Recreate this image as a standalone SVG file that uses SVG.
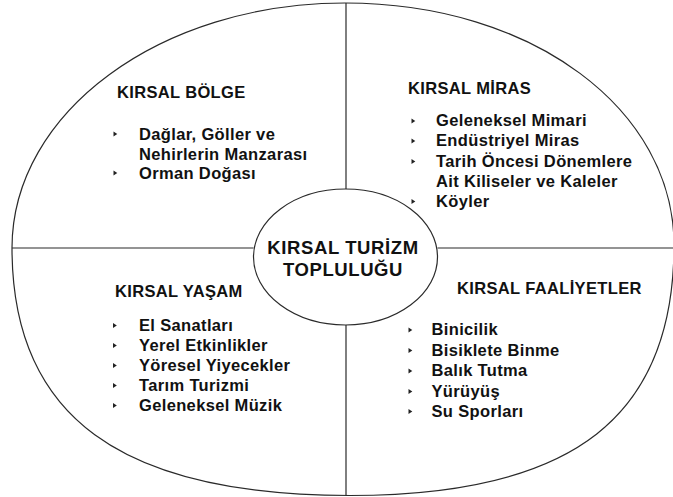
<svg xmlns="http://www.w3.org/2000/svg" width="673" height="497" viewBox="0 0 673 497">
<style>
.ln{fill:none;stroke:#2a2a2a;stroke-width:1.2}
.t{font-family:"Liberation Sans",Arial,Helvetica,sans-serif;font-weight:bold;fill:#111;font-size:16.5px;letter-spacing:0.35px}
.c{font-size:18.5px;letter-spacing:0.6px;text-anchor:middle}
.b{fill:#222}
</style>
<defs>
<path id="bul" d="M0,-2.6 L3.8,0 L0,2.6Z"/>
</defs>
<rect width="673" height="497" fill="#fff"/>
<g id="outer">
<path class="ln" d="M12,248 C12,112 161,3 345,3 C533,3 674,110 674,245 C674,415 576,495.5 350,495.5 C120,495.5 12,416 12,248 Z"/>
</g>
<g id="connectors">
<line class="ln" x1="346" y1="3" x2="346" y2="189"/>
<line class="ln" x1="346" y1="325" x2="346" y2="495.5"/>
<line class="ln" x1="12" y1="248" x2="253.5" y2="248"/>
<line class="ln" x1="437.5" y1="248" x2="673" y2="248"/>
</g>
<g id="center">
<ellipse class="ln" cx="345.5" cy="257" rx="92" ry="68"/>
<text class="t c" x="343" y="254">KIRSAL TURİZM</text>
<text class="t c" x="343" y="276">TOPLULUĞU</text>
</g>
<g id="kirsal-bolge">
<text class="t" x="117" y="98">KIRSAL BÖLGE</text>
<use href="#bul" class="b" x="113.5" y="134"/>
<use href="#bul" class="b" x="113.5" y="173"/>
<text class="t" x="139" y="140">Dağlar, Göller ve</text>
<text class="t" x="139" y="159.5">Nehirlerin Manzarası</text>
<text class="t" x="139" y="179">Orman Doğası</text>
</g>
<g id="kirsal-miras">
<text class="t" x="408" y="94">KIRSAL MİRAS</text>
<use href="#bul" class="b" x="411.5" y="121"/>
<use href="#bul" class="b" x="411.5" y="141"/>
<use href="#bul" class="b" x="411.5" y="161.5"/>
<use href="#bul" class="b" x="411.5" y="201.5"/>
<text class="t" x="436" y="126">Geleneksel Mimari</text>
<text class="t" x="436" y="146">Endüstriyel Miras</text>
<text class="t" x="436" y="166.5">Tarih Öncesi Dönemlere</text>
<text class="t" x="436" y="186.5">Ait Kiliseler ve Kaleler</text>
<text class="t" x="436" y="206.5">Köyler</text>
</g>
<g id="kirsal-yasam">
<text class="t" x="115" y="296.5">KIRSAL YAŞAM</text>
<use href="#bul" class="b" x="113" y="325.5"/>
<use href="#bul" class="b" x="113" y="345.5"/>
<use href="#bul" class="b" x="113" y="365.5"/>
<use href="#bul" class="b" x="113" y="385.5"/>
<use href="#bul" class="b" x="113" y="405.5"/>
<text class="t" x="139" y="330.5">El Sanatları</text>
<text class="t" x="139" y="350.5">Yerel Etkinlikler</text>
<text class="t" x="139" y="370.5">Yöresel Yiyecekler</text>
<text class="t" x="139" y="390.5">Tarım Turizmi</text>
<text class="t" x="139" y="410.5">Geleneksel Müzik</text>
</g>
<g id="kirsal-faaliyetler">
<text class="t" x="457" y="294">KIRSAL FAALİYETLER</text>
<use href="#bul" class="b" x="408.5" y="330"/>
<use href="#bul" class="b" x="408.5" y="350.5"/>
<use href="#bul" class="b" x="408.5" y="371"/>
<use href="#bul" class="b" x="408.5" y="391.5"/>
<use href="#bul" class="b" x="408.5" y="411.5"/>
<text class="t" x="431.5" y="335">Binicilik</text>
<text class="t" x="431.5" y="355.5">Bisiklete Binme</text>
<text class="t" x="431.5" y="376">Balık Tutma</text>
<text class="t" x="431.5" y="396.5">Yürüyüş</text>
<text class="t" x="431.5" y="416.5">Su Sporları</text>
</g>
</svg>
